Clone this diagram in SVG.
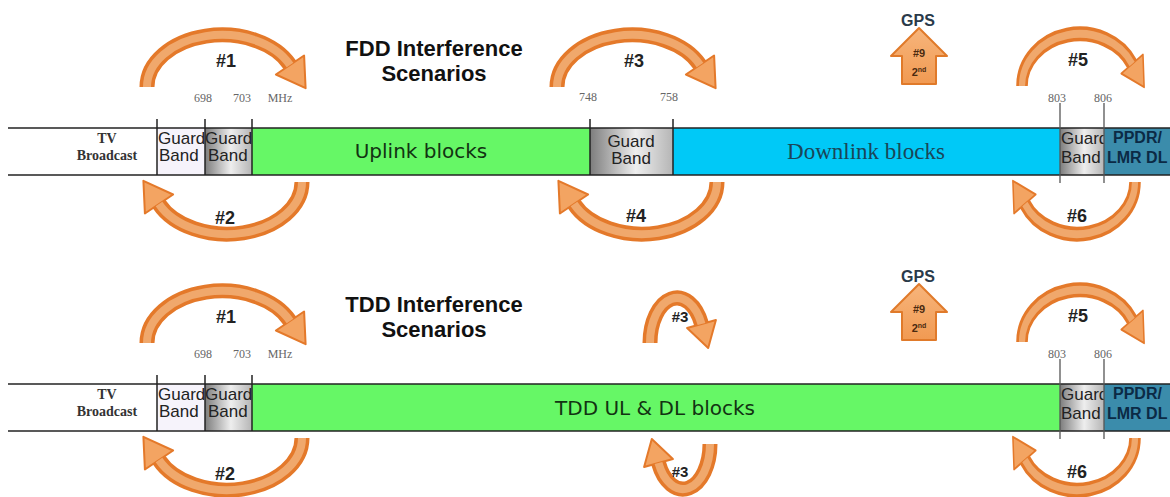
<svg xmlns="http://www.w3.org/2000/svg" width="1170" height="497" viewBox="0 0 1170 497">
<style>
.line{stroke:#222;stroke-width:1.5;fill:none}
.div{stroke:#222;stroke-width:1.5}
.mark{stroke:#555;stroke-width:1.3}
.freq{font-family:"Liberation Serif",serif;font-size:12px;fill:#666;text-anchor:middle}
.tv{font-family:"Liberation Serif",serif;font-weight:bold;font-size:14px;fill:#333;text-anchor:middle}
.gb{font-family:"Liberation Sans",Arial,sans-serif;font-size:17px;fill:#222}
.gbc{font-family:"Liberation Sans",Arial,sans-serif;font-size:17px;fill:#222;text-anchor:middle}
.pp{font-family:"Liberation Sans",Arial,sans-serif;font-weight:bold;font-size:16px;fill:#0b2a45}
.blk{font-family:"DejaVu Sans",Verdana,sans-serif;font-size:20px;fill:#123312;text-anchor:middle}
.dl{font-family:"Liberation Serif",serif;font-size:23px;fill:#1a4658;text-anchor:middle}
.title{font-family:"Liberation Sans",Arial,sans-serif;font-weight:bold;font-size:22px;fill:#111;text-anchor:middle}
.lbl{font-family:"Liberation Sans",Arial,sans-serif;font-weight:bold;font-size:18px;fill:#222;text-anchor:middle}
.lbls{font-family:"Liberation Sans",Arial,sans-serif;font-weight:bold;font-size:15px;fill:#222;text-anchor:middle}
.gps{font-family:"Liberation Sans",Arial,sans-serif;font-weight:bold;font-size:16px;fill:#2a3a4a;text-anchor:middle}
.gpsin{font-family:"Liberation Sans",Arial,sans-serif;font-weight:bold;font-size:11px;fill:#4a2a10;text-anchor:middle}
.arcO{fill:none;stroke:#e4792a;stroke-width:15}
.arcI{fill:none;stroke:#f0a86c;stroke-width:8}
.head{fill:#f3a462;stroke:#e4792a;stroke-width:2;stroke-linejoin:round}
.up{fill:url(#gpsg);stroke:#e07a2a;stroke-width:2;stroke-linejoin:round}
</style>
<defs>
<linearGradient id="gbg" x1="0" y1="0" x2="1" y2="0">
<stop offset="0" stop-color="#7d7d7d"/>
<stop offset="0.55" stop-color="#eeeeee"/>
<stop offset="1" stop-color="#b5b5b5"/>
</linearGradient>
<linearGradient id="gpsg" x1="0" y1="0" x2="0" y2="1">
<stop offset="0" stop-color="#f7b57c"/>
<stop offset="1" stop-color="#f19a52"/>
</linearGradient>
<g id="arcUp">
<path class="arcO" d="M0 58 A75 52 0 0 1 143 36"/>
<polygon class="head" points="157.1,26.5 158.6,59.2 128.9,45.5"/>
<path class="arcI" d="M0 58 A75 52 0 0 1 143 36"/>
</g>
<g id="arcSmall">
<path class="arcO" d="M0 50 A27 45 0 0 1 51.5 31"/>
<polygon class="head" points="65.9,27 58.2,55 37.1,35"/>
<path class="arcI" d="M0 50 A27 45 0 0 1 51.5 31"/>
</g>
<g id="gpsArrow">
<polygon class="up" points="0,0 28,28 17,28 17,56 -17,56 -17,28 -28,28"/>
</g>
</defs>
<rect width="1170" height="497" fill="#fff"/>

<!-- FDD band -->
<g id="fdd-tv"><text class="tv" x="107" y="143">TV</text><text class="tv" x="107" y="160">Broadcast</text></g>
<g id="fdd-gb1"><rect x="157" y="128" width="48" height="47" fill="#f6f3fb"/><text class="gb" x="158" y="144">Guard</text><text class="gb" x="159" y="161">Band</text></g>
<g id="fdd-gb2"><rect x="205" y="128" width="47" height="47" fill="url(#gbg)"/><text class="gb" x="205" y="144">Guard</text><text class="gb" x="208" y="161">Band</text></g>
<g id="fdd-ul"><rect x="252" y="128" width="338" height="47" fill="#66f766"/><text class="blk" x="421" y="158">Uplink blocks</text></g>
<g id="fdd-gb3"><rect x="590" y="128" width="83" height="47" fill="url(#gbg)"/><text class="gbc" x="631" y="147">Guard</text><text class="gbc" x="631" y="164">Band</text></g>
<g id="fdd-dl"><rect x="673" y="128" width="387" height="47" fill="#00c9f7"/><text class="dl" x="866" y="159">Downlink blocks</text></g>
<g id="fdd-gb4"><rect x="1060" y="128" width="44" height="47" fill="url(#gbg)"/><text class="gb" x="1061" y="144">Guard</text><text class="gb" x="1061" y="163">Band</text></g>
<g id="fdd-ppdr"><rect x="1104" y="128" width="66" height="47" fill="#3b8cab"/><text class="pp" x="1113" y="143">PPDR/</text><text class="pp" x="1107" y="163">LMR DL</text></g>
<g id="fdd-lines">
<line class="line" x1="8" y1="128" x2="1170" y2="128"/><line class="line" x1="8" y1="175" x2="1170" y2="175"/>
<line class="div" x1="157" y1="119" x2="157" y2="175"/><line class="div" x1="205" y1="119" x2="205" y2="175"/><line class="div" x1="252" y1="119" x2="252" y2="175"/>
<line class="div" x1="590" y1="119" x2="590" y2="175"/><line class="div" x1="673" y1="119" x2="673" y2="175"/>
<line class="mark" x1="1060" y1="103" x2="1060" y2="183"/><line class="mark" x1="1104" y1="103" x2="1104" y2="183"/>
</g>
<g id="fdd-freq">
<text class="freq" x="203" y="102">698</text><text class="freq" x="242" y="102">703</text><text class="freq" x="280" y="102">MHz</text>
<text class="freq" x="588" y="101">748</text><text class="freq" x="669" y="101">758</text>
<text class="freq" x="1057" y="102">803</text><text class="freq" x="1103" y="102">806</text>
</g>
<g id="fdd-title"><text class="title" x="434" y="56">FDD Interference</text><text class="title" x="434" y="81">Scenarios</text></g>

<!-- TDD band -->
<g id="tdd-tv"><text class="tv" x="107" y="399">TV</text><text class="tv" x="107" y="416">Broadcast</text></g>
<g id="tdd-gb1"><rect x="157" y="384" width="48" height="47" fill="#f6f3fb"/><text class="gb" x="158" y="400">Guard</text><text class="gb" x="159" y="417">Band</text></g>
<g id="tdd-gb2"><rect x="205" y="384" width="47" height="47" fill="url(#gbg)"/><text class="gb" x="205" y="400">Guard</text><text class="gb" x="208" y="417">Band</text></g>
<g id="tdd-uldl"><rect x="252" y="384" width="808" height="47" fill="#66f766"/><text class="blk" x="655" y="415">TDD UL &amp; DL blocks</text></g>
<g id="tdd-gb4"><rect x="1060" y="384" width="44" height="47" fill="url(#gbg)"/><text class="gb" x="1061" y="400">Guard</text><text class="gb" x="1061" y="419">Band</text></g>
<g id="tdd-ppdr"><rect x="1104" y="384" width="66" height="47" fill="#3b8cab"/><text class="pp" x="1113" y="399">PPDR/</text><text class="pp" x="1107" y="419">LMR DL</text></g>
<g id="tdd-lines">
<line class="line" x1="8" y1="384" x2="1170" y2="384"/><line class="line" x1="8" y1="431" x2="1170" y2="431"/>
<line class="div" x1="157" y1="375" x2="157" y2="431"/><line class="div" x1="205" y1="375" x2="205" y2="431"/><line class="div" x1="252" y1="375" x2="252" y2="431"/>
<line class="mark" x1="1060" y1="359" x2="1060" y2="439"/><line class="mark" x1="1104" y1="359" x2="1104" y2="439"/>
</g>
<g id="tdd-freq">
<text class="freq" x="203" y="358">698</text><text class="freq" x="242" y="358">703</text><text class="freq" x="280" y="358">MHz</text>
<text class="freq" x="1057" y="358">803</text><text class="freq" x="1103" y="358">806</text>
</g>
<g id="tdd-title"><text class="title" x="434" y="312">TDD Interference</text><text class="title" x="434" y="337">Scenarios</text></g>

<!-- connectors: interference arrows -->
<g id="connectors">
<use href="#arcUp" transform="translate(147,29)"/>
<use href="#arcUp" transform="translate(302,240) rotate(180)"/>
<use href="#arcUp" transform="translate(557,29)"/>
<use href="#arcUp" transform="translate(717,240) rotate(180)"/>
<use href="#arcUp" transform="translate(1022,28) scale(0.77,1)"/>
<use href="#arcUp" transform="translate(1135,240) rotate(180) scale(0.77,1)"/>
<use href="#gpsArrow" transform="translate(919,28)"/>

<use href="#arcUp" transform="translate(147,285)"/>
<use href="#arcUp" transform="translate(302,496) rotate(180)"/>
<use href="#arcSmall" transform="translate(650,293)"/>
<use href="#arcSmall" transform="translate(710,494) rotate(180)"/>
<use href="#arcUp" transform="translate(1022,284) scale(0.77,1)"/>
<use href="#arcUp" transform="translate(1135,496) rotate(180) scale(0.77,1)"/>
<use href="#gpsArrow" transform="translate(919,284)"/>
</g>

<g id="labels">
<text class="lbl" x="226" y="67">#1</text><text class="lbl" x="225" y="224">#2</text>
<text class="lbl" x="634" y="67">#3</text><text class="lbl" x="636" y="222">#4</text>
<text class="lbl" x="1078" y="66">#5</text><text class="lbl" x="1077" y="222">#6</text>
<text class="gps" x="918" y="26">GPS</text><text class="gpsin" x="919" y="57">#9</text>
<text class="gpsin" x="919" y="76">2<tspan font-size="7" dy="-4">nd</tspan></text>

<text class="lbl" x="226" y="323">#1</text><text class="lbl" x="225" y="480">#2</text>
<text class="lbls" x="680" y="322">#3</text><text class="lbls" x="680" y="477">#3</text>
<text class="lbl" x="1078" y="322">#5</text><text class="lbl" x="1077" y="478">#6</text>
<text class="gps" x="918" y="282">GPS</text><text class="gpsin" x="919" y="313">#9</text>
<text class="gpsin" x="919" y="332">2<tspan font-size="7" dy="-4">nd</tspan></text>
</g>
</svg>
